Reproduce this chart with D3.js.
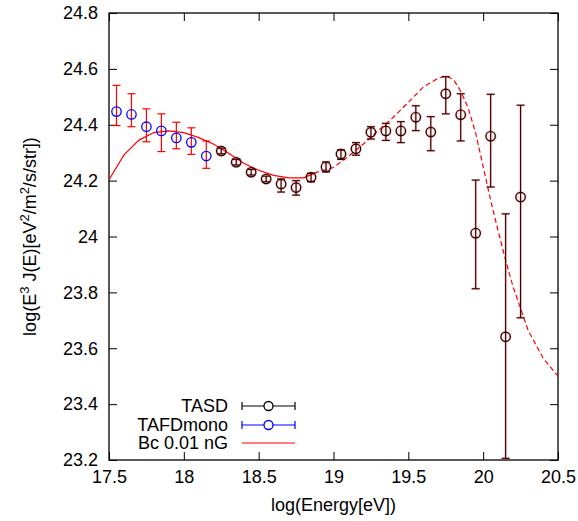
<!DOCTYPE html>
<html><head><meta charset="utf-8">
<script src="https://cdn.jsdelivr.net/npm/d3@7"></script>
<style>
body{margin:0;background:#fff;}
svg text{font-family:"Liberation Sans",Arial,sans-serif;}
</style></head>
<body><svg id="c" width="578" height="521"></svg>
<script>
// TAFDmono (blue)
const fdX   = [17.55, 17.65, 17.75, 17.85, 17.95, 18.05, 18.15];
const fdY   = [24.447, 24.437, 24.393, 24.378, 24.353, 24.337, 24.288];
const fdHi  = [24.541, 24.511, 24.457, 24.439, 24.409, 24.389, 24.342];
const fdLo  = [24.397, 24.393, 24.339, 24.304, 24.314, 24.294, 24.244];
// TASD (black)
const sdX   = [18.25, 18.35, 18.45, 18.55, 18.65, 18.75, 18.85, 18.95, 19.05, 19.15, 19.25, 19.35, 19.45, 19.55, 19.65, 19.75, 19.85, 19.95, 20.05, 20.15, 20.25];
const sdY   = [24.306, 24.266, 24.230, 24.206, 24.188, 24.175, 24.212, 24.249, 24.295, 24.314, 24.373, 24.378, 24.378, 24.427, 24.374, 24.511, 24.436, 24.012, 24.359, 23.641, 24.141];
const sdHi  = [24.316, 24.276, 24.240, 24.216, 24.206, 24.200, 24.226, 24.267, 24.310, 24.336, 24.393, 24.405, 24.411, 24.468, 24.429, 24.572, 24.511, 24.202, 24.509, 24.081, 24.470];
const sdLo  = [24.296, 24.256, 24.220, 24.196, 24.159, 24.148, 24.196, 24.231, 24.276, 24.291, 24.349, 24.344, 24.336, 24.379, 24.307, 24.439, 24.342, 23.813, 24.177, 23.206, 23.709];
// Bc 0.01 nG model (solid part, then dashed continuation)
const bcX1 = [17.5, 17.6, 17.7, 17.8, 17.9, 18.0, 18.1, 18.2, 18.3, 18.4, 18.5, 18.6, 18.7, 18.8, 18.87];
const bcY1 = [24.203, 24.292, 24.345, 24.372, 24.378, 24.372, 24.354, 24.330, 24.298, 24.262, 24.237, 24.219, 24.210, 24.210, 24.226];
const bcX2 = [18.87, 18.9, 19.0, 19.1, 19.2, 19.3, 19.4, 19.5, 19.6, 19.7, 19.75, 19.8, 19.85, 19.9, 19.95, 20.0, 20.05, 20.1, 20.15, 20.2, 20.3, 20.4, 20.5];
const bcY2 = [24.226, 24.232, 24.247, 24.287, 24.331, 24.380, 24.427, 24.480, 24.535, 24.567, 24.574, 24.563, 24.520, 24.460, 24.370, 24.250, 24.130, 24.020, 23.915, 23.820, 23.665, 23.565, 23.500];
const xTicks = [17.5, 18, 18.5, 19, 19.5, 20, 20.5];
const yTicks = [23.2, 23.4, 23.6, 23.8, 24, 24.2, 24.4, 24.6, 24.8];
const legendLabels = ["TASD", "TAFDmono", "Bc 0.01 nG"];

const L = 109, R = 558, T = 13, B = 460;
const svg = d3.select("#c");
const x = d3.scaleLinear().domain([17.5, 20.5]).range([L, R]);
const y = d3.scaleLinear().domain([23.2, 24.8]).range([B, T]);
const fmt = d3.format("~g");

function styleAxis(g){
  g.selectAll("path").remove();
  g.selectAll("line").attr("stroke","#000").attr("stroke-width",1);
  g.selectAll("text").attr("font-size",18).attr("fill","#000");
}
svg.append("g").attr("transform",`translate(0,${B})`)
  .call(d3.axisBottom(x).tickValues(xTicks).tickFormat(fmt).tickSizeInner(-8).tickSizeOuter(0).tickPadding(10)).call(styleAxis);
svg.append("g").attr("transform",`translate(0,${T})`)
  .call(d3.axisTop(x).tickValues(xTicks).tickFormat("").tickSizeInner(-8).tickSizeOuter(0)).call(styleAxis);
svg.append("g").attr("transform",`translate(${L},0)`)
  .call(d3.axisLeft(y).tickValues(yTicks).tickFormat(fmt).tickSizeInner(-8).tickSizeOuter(0).tickPadding(11)).call(styleAxis);
svg.append("g").attr("transform",`translate(${R},0)`)
  .call(d3.axisRight(y).tickValues(yTicks).tickFormat("").tickSizeInner(-8).tickSizeOuter(0)).call(styleAxis);
svg.append("rect").attr("x",L).attr("y",T).attr("width",R-L).attr("height",B-T)
  .attr("fill","none").attr("stroke","#000").attr("stroke-width",1.3);

// axis titles
svg.append("text").attr("x",(L+R)/2).attr("y",511).attr("text-anchor","middle").attr("font-size",18).text("log(Energy[eV])");
const yl = svg.append("text").attr("transform",`translate(36,${(T+B)/2}) rotate(-90)`).attr("text-anchor","middle").attr("font-size",18);
yl.append("tspan").text("log(E");
yl.append("tspan").attr("dy",-7).attr("font-size",13).text("3");
yl.append("tspan").attr("dy",7).text(" J(E)[eV");
yl.append("tspan").attr("dy",-7).attr("font-size",13).text("2");
yl.append("tspan").attr("dy",7).text("/m");
yl.append("tspan").attr("dy",-7).attr("font-size",13).text("2");
yl.append("tspan").attr("dy",7).text("/s/str])");

// model curve
const line = d3.line().x(d=>x(d[0])).y(d=>y(d[1]));
const plot = svg.append("g");
plot.append("path").datum(d3.zip(bcX1,bcY1)).attr("d",line).attr("fill","none").attr("stroke","#ff0000").attr("stroke-width",1.2);
plot.append("path").datum(d3.zip(bcX2,bcY2)).attr("d",line).attr("fill","none").attr("stroke","#ff0000").attr("stroke-width",1.2).attr("stroke-dasharray","5,3");

function errBars(g, xs, his, los, color, w){
  xs.forEach((xv,i)=>{
    const px = x(xv), y1 = y(his[i]), y2 = y(los[i]);
    g.append("line").attr("x1",px).attr("x2",px).attr("y1",y1).attr("y2",y2).attr("stroke",color).attr("stroke-width",w);
    g.append("line").attr("x1",px-4).attr("x2",px+4).attr("y1",y1).attr("y2",y1).attr("stroke",color).attr("stroke-width",w);
    g.append("line").attr("x1",px-4).attr("x2",px+4).attr("y1",y2).attr("y2",y2).attr("stroke",color).attr("stroke-width",w);
  });
}
// TAFDmono
errBars(plot, fdX, fdHi, fdLo, "#ff0000", 1.2);
plot.selectAll("circle.fd").data(d3.zip(fdX,fdY)).join("circle").attr("class","fd")
  .attr("cx",d=>x(d[0])).attr("cy",d=>y(d[1])).attr("r",4.7).attr("fill","none").attr("stroke","#0000ff").attr("stroke-width",1.3);
// TASD: faint red underlay then dark bars
errBars(plot, sdX, sdHi, sdLo, "rgba(255,0,0,0.3)", 2.2);
plot.selectAll("circle.sdu").data(d3.zip(sdX,sdY)).join("circle").attr("class","sdu")
  .attr("cx",d=>x(d[0])).attr("cy",d=>y(d[1])).attr("r",4.7).attr("fill","none").attr("stroke","rgba(255,0,0,0.25)").attr("stroke-width",2.6);
errBars(plot, sdX, sdHi, sdLo, "#2a0505", 1.1);
plot.selectAll("circle.sd").data(d3.zip(sdX,sdY)).join("circle").attr("class","sd")
  .attr("cx",d=>x(d[0])).attr("cy",d=>y(d[1])).attr("r",4.7).attr("fill","none").attr("stroke","#1a0000").attr("stroke-width",1.2);

// legend
const lg = svg.append("g");
const ly = [406, 425, 443];
const lcol = ["#000","#0000ff","#ff0000"];
legendLabels.forEach((t,i)=>{
  lg.append("text").attr("x",228).attr("y",ly[i]).attr("dy","0.35em").attr("text-anchor","end").attr("font-size",18).text(t);
  lg.append("line").attr("x1",242).attr("x2",295).attr("y1",ly[i]).attr("y2",ly[i]).attr("stroke",lcol[i]).attr("stroke-width",1.2);
  if(i<2){
    [242,295].forEach(px=>lg.append("line").attr("x1",px).attr("x2",px).attr("y1",ly[i]-4).attr("y2",ly[i]+4).attr("stroke",lcol[i]).attr("stroke-width",1.2));
    lg.append("circle").attr("cx",268.5).attr("cy",ly[i]).attr("r",4.5).attr("fill","#fff").attr("stroke",lcol[i]).attr("stroke-width",1.3);
  }
});
</script></body></html>
